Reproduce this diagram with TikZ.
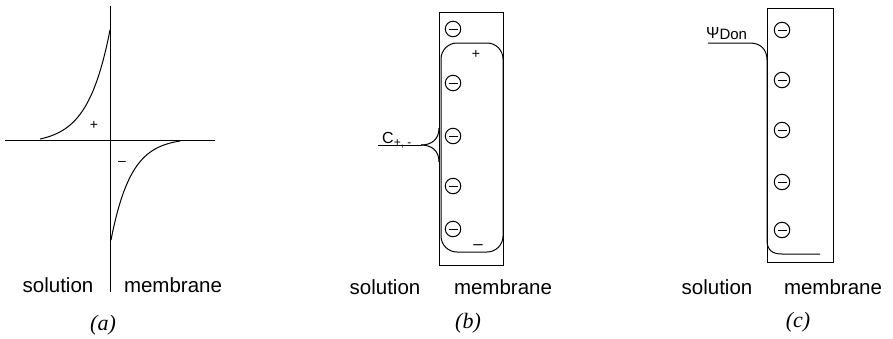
\documentclass[tikz,border=0pt]{standalone}
\usepackage{fontspec}
\setmainfont{Liberation Sans}
\newfontfamily\capfont{Liberation Serif}
\begin{document}
\begin{tikzpicture}[x=1pt,y=-1pt,
  ln/.style={line width=1pt},
  neg/.style={circle,draw,line width=1pt,minimum size=15.5pt,inner sep=0pt,
    path picture={\draw[line width=1pt] ([xshift=-4.5pt]path picture bounding box.center) -- ([xshift=4.5pt]path picture bounding box.center);}},
  lab/.style={font=\fontsize{20.5}{24}\selectfont, anchor=base, inner sep=0pt},
  captxt/.style={font=\capfont\itshape\fontsize{22}{24}\selectfont, inner sep=0pt},
  sgn/.style={font=\fontsize{14}{14}\selectfont, inner sep=0pt}]
\useasboundingbox (0,0) rectangle (893,338);

% ---------- panel (a)
\coordinate (aT) at (110,6);
\coordinate (aB) at (110,292);
\coordinate (aL) at (5,140);
\coordinate (aR) at (215,140);
\draw[ln] (aT) -- (aB);
\draw[ln] (aL) -- (aR);
\draw[ln] plot[domain=40:110,samples=70,smooth] (\x,{139-109*(exp(0.045*(\x-110))-0.0429)/(1-0.0429)});
\draw[ln] plot[domain=111:180,samples=70,smooth] (\x,{141+99*(exp(-0.05*(\x-111))-0.0317)/(1-0.0317)});
\node[sgn] (ap) at (94,125) {+};
\node[sgn] (am) at (122,163) {–};
\node[lab] (asol) at (58,292) {solution};
\node[lab] (amem) at (173,292) {membrane};
\node[captxt] (acap) at (103,325) {(a)};

% ---------- panel (b)
\coordinate (bNW) at (439,12);
\coordinate (bSE) at (503,265);
\draw[ln] (bNW) rectangle (bSE);
\coordinate (biNW) at (441,43);
\coordinate (biSE) at (503,252);
\draw[ln, rounded corners=16pt] (biNW) rectangle (biSE);
\foreach \i/\yy in {1/29,2/83,3/136,4/186,5/229}{
  \node[neg] (bm\i) at (453,\yy) {};
}
\node[sgn] (bp) at (476,54) {+};
\node[font=\fontsize{17}{17}\selectfont, inner sep=0pt] (bn) at (478,247) {–};
\coordinate (bL) at (378,145);
\coordinate (bK) at (421,145);
\coordinate (bU) at (439,128);
\coordinate (bD) at (439,162);
\draw[ln] (bL) -- (bK);
\draw[ln] (bK) .. controls (432,145) and (439,139) .. (bU);
\draw[ln] (bK) .. controls (432,145) and (439,151) .. (bD);
\node[anchor=base west, inner sep=0pt, font=\fontsize{16}{16}\selectfont] (bC) at (382,143) {C\raisebox{-3.5pt}{\fontsize{12}{12}\selectfont +, -}};
\node[lab] (bsol) at (385,294) {solution};
\node[lab] (bmem) at (503,294) {membrane};
\node[captxt] (bcap) at (468,323) {(b)};

% ---------- panel (c)
\coordinate (cNW) at (767,8);
\coordinate (cSE) at (833,262);
\draw[ln] (cNW) rectangle (cSE);
\foreach \i/\yy in {1/30,2/80,3/130,4/182,5/230}{
  \node[neg] (cm\i) at (782,\yy) {};
}
\coordinate (cA) at (708,43);
\coordinate (cB) at (750,43);
\coordinate (cC) at (767,60);
\coordinate (cD) at (767,240);
\coordinate (cE) at (782,254);
\coordinate (cF) at (820,254);
\draw[ln] (cA) -- (cB) .. controls (761,43) and (767,50) .. (cC) -- (cD)
  .. controls (767,250) and (772,254) .. (cE) -- (cF);
\node[anchor=base west, inner sep=0pt, font=\fontsize{16}{16}\selectfont] (cpsi) at (706,38) {Ψ\raisebox{-1.5pt}{\fontsize{15}{15}\selectfont Don}};
\node[lab] (csol) at (717,294) {solution};
\node[lab] (cmem) at (833,294) {membrane};
\node[captxt] (ccap) at (798,322) {(c)};
\end{tikzpicture}
\end{document}
